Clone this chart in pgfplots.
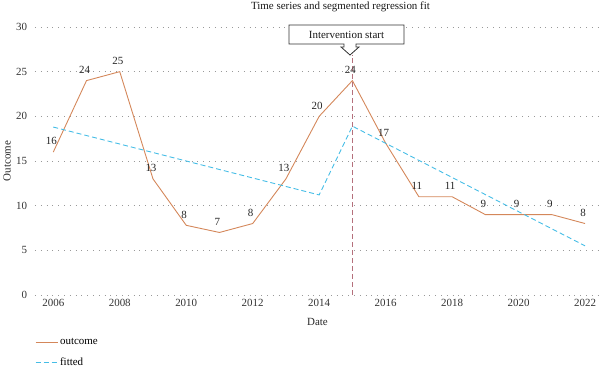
\documentclass[border=0pt]{standalone}
\usepackage{fontspec}
\setmainfont{Liberation Serif}
\usepackage{pgfplots}
\pgfplotsset{compat=1.18}
\usepackage{pgfplotstable}
\definecolor{outc}{HTML}{D4875A}
\definecolor{fitc}{HTML}{45BDE6}
\definecolor{vline}{HTML}{B5707C}
\pgfplotstableread{
year value lab
2006 16 16
2007 24 24
2008 25 25
2009 13 13
2010 7.8 8
2011 7 7
2012 8 8
2013 13 13
2014 20 20
2015 24 24
2016 17 17
2017 11 11
2018 11 11
2019 9 9
2020 9 9
2021 9 9
2022 8 8
}\outcome
\pgfplotstableread{
year value
2006 18.8
2014 11.2
2015 18.9
2022 5.5
}\fitted
\begin{document}
\fontsize{11}{13}\selectfont
\begin{tikzpicture}[x=1bp,y=1bp]
\begin{axis}[
  at={(35bp,73bp)}, anchor=south west,
  scale only axis, width=565bp, height=268bp,
  xmin=2005.45, xmax=2022.45, ymin=0, ymax=30,
  xtick={2006,2008,...,2022}, ytick={0,5,...,30},
  /pgf/number format/assume math mode=true,
  xticklabel style={/pgf/number format/1000 sep={}, font=\fontsize{11}{13}\selectfont, text=black!80},
  yticklabel style={font=\fontsize{11}{13}\selectfont, text=black!80, xshift=-4bp},
  axis line style={draw=none},
  major tick length=0pt,
  ymajorgrids, grid style={black!40, line width=0.8pt, dash pattern=on 0.8bp off 5bp},
  xlabel={Date}, ylabel={Outcome},
  xlabel style={font=\fontsize{11}{13}\selectfont, text=black!85, yshift=-5bp},
  ylabel style={font=\fontsize{11}{13}\selectfont, text=black!85, yshift=-2bp},
  legend style={at={(0,-0.155)}, anchor=north west, draw=none, fill=none,
    font=\fontsize{11}{13}\selectfont, row sep=7bp, inner sep=0pt},
  legend cell align=left,
  legend image code/.code={\draw[#1] (0bp,0bp) -- (22bp,0bp);},
  clip=false,
]
\addplot[outc, line width=0.9pt,
  nodes near coords, point meta=explicit symbolic,
  nodes near coords style={anchor=south, yshift=3bp, xshift=-2bp, text=black!85, font=\fontsize{11}{13}\selectfont}]
  table[x=year, y=value, meta=lab] {\outcome};
\addlegendentry{outcome}
\addplot[fitc, line width=0.9pt, dash pattern=on 5bp off 3bp] table[x=year, y=value] {\fitted};
\addlegendentry{fitted}
\draw[vline, line width=0.9pt, dash pattern=on 5bp off 3bp] (axis cs:2015,0) -- (axis cs:2015,26.9);
\end{axis}
% callout
\draw[black!80, line width=0.8pt, fill=white]
  (289bp,343bp) -- (404bp,343bp) -- (404bp,324bp) -- (356bp,324bp) -- (356bp,321bp) -- (359bp,321bp)
  -- (350bp,313bp) -- (341bp,321bp) -- (344bp,321bp) -- (344bp,324bp) -- (289bp,324bp) -- cycle;
\node[text=black!90, font=\fontsize{11}{13}\selectfont] at (346.5bp,333.5bp) {Intervention start};
\node[text=black!90, font=\fontsize{11}{13}\selectfont] at (340.5bp,361bp) {Time series and segmented regression fit};
\pgfresetboundingbox
\path[use as bounding box] (0,0) rectangle (600bp,368bp);
\end{tikzpicture}
\end{document}
